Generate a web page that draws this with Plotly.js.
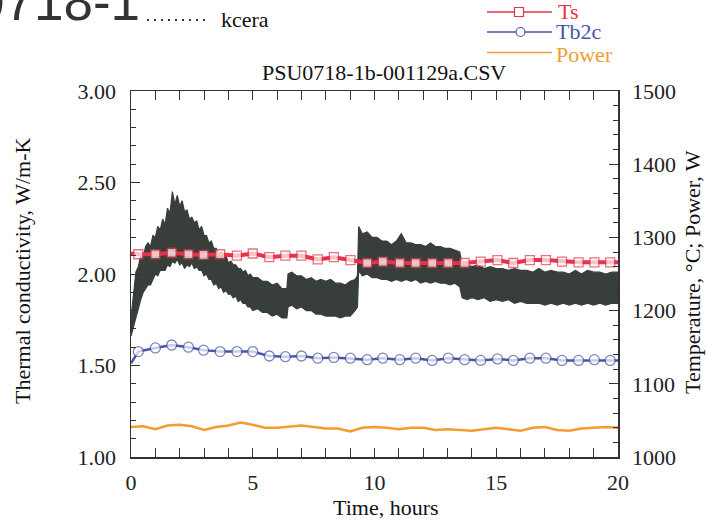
<!DOCTYPE html>
<html>
<head>
<meta charset="utf-8">
<script src="https://cdn.plot.ly/plotly-3.0.1.min.js"></script>
<style>html,body{margin:0;padding:0;background:#fff;}#chart{width:706px;height:520px;}</style>
</head>
<body>
<div id="chart"></div>
<script>
// ---- kcera (noisy band: upper / lower envelope) ----
const kTime  = [0.00,0.10,0.20,0.30,0.40,0.50,0.60,0.70,0.80,0.90,1.00,1.10,1.20,1.30,1.40,1.50,1.60,1.70,1.80,1.90,2.00,2.10,2.20,2.30,2.40,2.50,2.60,2.70,2.80,2.90,3.00,3.10,3.20,3.30,3.40,3.50,3.60,3.70,3.80,3.90,4.00,4.10,4.20,4.30,4.40,4.50,4.60,4.70,4.80,4.90,5.00,5.20,5.40,5.60,5.80,6.00,6.20,6.40,6.45,6.60,6.80,7.00,7.20,7.40,7.60,7.80,8.00,8.20,8.40,8.60,8.80,9.00,9.20,9.30,9.35,9.50,9.70,9.90,10.10,10.30,10.50,10.70,10.90,11.10,11.30,11.50,11.70,11.90,12.10,12.30,12.50,12.70,12.90,13.10,13.30,13.50,13.60,13.80,14.00,14.25,14.50,14.75,15.00,15.25,15.50,15.75,16.00,16.25,16.50,16.75,17.00,17.25,17.50,17.75,18.00,18.25,18.50,18.75,19.00,19.25,19.50,19.75,20.00];
const kUpper = [1.76,1.90,2.01,2.04,2.10,2.09,2.15,2.17,2.15,2.21,2.20,2.26,2.24,2.30,2.27,2.36,2.33,2.45,2.38,2.43,2.37,2.40,2.34,2.35,2.30,2.31,2.28,2.29,2.24,2.26,2.21,2.21,2.17,2.18,2.14,2.14,2.11,2.12,2.09,2.10,2.06,2.07,2.05,2.05,2.03,2.03,2.01,2.02,1.99,2.00,1.98,1.98,1.96,1.96,1.94,1.95,1.92,1.92,2.00,2.01,1.99,1.99,1.97,1.98,1.96,1.97,1.96,1.97,1.95,1.95,1.94,1.96,1.97,1.99,2.26,2.22,2.23,2.20,2.20,2.18,2.18,2.16,2.18,2.22,2.17,2.17,2.16,2.16,2.15,2.17,2.15,2.15,2.14,2.14,2.13,2.12,2.05,2.05,2.04,2.05,2.03,2.04,2.03,2.03,2.02,2.03,2.02,2.02,2.01,2.03,2.01,2.02,2.01,2.01,2.00,2.02,2.00,2.02,2.01,2.01,2.00,2.01,2.01];
const kLower = [1.66,1.70,1.75,1.81,1.86,1.90,1.92,1.94,1.94,1.97,2.00,1.99,2.02,2.02,2.02,2.05,2.04,2.07,2.06,2.08,2.05,2.06,2.03,2.05,2.04,2.06,2.03,2.04,2.02,2.02,1.99,2.00,1.97,1.97,1.94,1.95,1.92,1.93,1.90,1.91,1.89,1.89,1.87,1.88,1.85,1.86,1.84,1.84,1.82,1.82,1.80,1.81,1.79,1.79,1.77,1.78,1.76,1.76,1.82,1.83,1.81,1.82,1.80,1.80,1.78,1.78,1.77,1.77,1.77,1.76,1.77,1.77,1.80,1.82,2.02,1.99,2.00,1.98,1.98,1.97,1.97,1.96,1.97,1.96,1.97,1.96,1.97,1.95,1.96,1.95,1.96,1.95,1.95,1.94,1.95,1.93,1.87,1.86,1.87,1.86,1.87,1.85,1.86,1.85,1.86,1.84,1.85,1.84,1.84,1.84,1.83,1.84,1.83,1.84,1.83,1.84,1.83,1.84,1.83,1.84,1.83,1.84,1.84];

// ---- Ts and Tb2c (right axis, deg C) ----
const tTime   = [0,0.30,1.00,1.67,2.36,2.98,3.66,4.35,5.00,5.68,6.34,7.00,7.67,8.33,9.01,9.70,10.34,11.04,11.69,12.37,13.03,13.70,14.36,15.05,15.70,16.38,17.04,17.70,18.38,19.03,19.68,20];
const tsVal   = [1278,1277,1277,1279,1277,1276,1277,1275,1278,1273,1275,1275,1270,1273,1269,1265,1267,1265,1265,1265,1265,1265,1267,1269,1265,1269,1269,1267,1266,1266,1266,1266];
const tb2cVal = [1128,1144,1149,1153,1150,1146,1144,1144,1144,1138,1137,1138,1135,1136,1135,1133,1135,1133,1135,1132,1135,1133,1132,1134,1132,1135,1135,1132,1132,1133,1132,1132];

// ---- Power (right axis, W) ----
const pTime = [0,0.5,1,1.5,2,2.5,3,3.5,4,4.5,5,5.5,6,6.5,7,7.5,8,8.5,9,9.5,10,10.5,11,11.5,12,12.5,13,13.5,14,14.5,15,15.5,16,16.5,17,17.5,18,18.5,19,19.5,20];
const pVal  = [1041,1042,1038,1043,1044,1042,1037,1041,1043,1047,1044,1040,1040,1041,1043,1041,1039,1039,1035,1040,1041,1040,1038,1040,1040,1037,1038,1037,1036,1038,1040,1038,1036,1040,1041,1037,1036,1039,1040,1041,1040];

const SERIF = 'Liberation Serif, Times New Roman, serif';
const SANS = 'Liberation Sans, Arial, sans-serif';
const AX = '#333333';
const C_K = '#383e3a', C_TS = '#e6334b', C_TB = '#4a55a8', C_P = '#f39c32';

const endSizes = (n, s) => tTime.map((_, i) => (i === 0 || i === n - 1) ? 0 : s);

const traces = [
  { x: kTime.concat(kTime.slice().reverse()), y: kUpper.concat(kLower.slice().reverse()),
    type: 'scatter', mode: 'lines', fill: 'toself', fillcolor: C_K,
    line: { color: C_K, width: 1.2 }, yaxis: 'y', hoverinfo: 'skip', name: 'kcera' },
  { x: pTime, y: pVal, type: 'scatter', mode: 'lines', yaxis: 'y2',
    line: { color: C_P, width: 2.5 }, name: 'Power' },
  { x: tTime, y: tb2cVal, type: 'scatter', mode: 'lines+markers', yaxis: 'y2',
    line: { color: C_TB, width: 2.5 },
    marker: { symbol: 'circle', size: endSizes(tTime.length, 10), color: '#ffffff', line: { color: C_TB, width: 1.3 } },
    name: 'Tb2c' },
  { x: tTime, y: tsVal, type: 'scatter', mode: 'lines+markers', yaxis: 'y2',
    line: { color: C_TS, width: 4 },
    marker: { symbol: 'square', size: endSizes(tTime.length, 9), color: '#ffffff', line: { color: C_TS, width: 1.3 } },
    name: 'Ts' }
];

const L = 131, R = 618, T = 91, B = 457;
const px = X => (X - L) / (R - L);
const py = Y => (B - Y) / (B - T);

const tickFont = { family: SERIF, size: 22, color: '#222' };
const txtFont = { family: SERIF, size: 22, color: '#111' };

const layout = {
  width: 706, height: 520,
  margin: { l: L, r: 706 - R, t: T, b: 520 - B, pad: 0 },
  paper_bgcolor: '#ffffff', plot_bgcolor: '#ffffff',
  showlegend: false,
  font: { family: SERIF },
  xaxis: {
    range: [0, 20], dtick: 5, tick0: 0, ticks: 'inside', ticklen: 9, tickwidth: 1, tickcolor: AX,
    showline: true, linecolor: AX, linewidth: 1.5, mirror: 'allticks',
    showgrid: false, zeroline: false, tickfont: tickFont, ticklabelstandoff: 5,
    minor: { dtick: 1, ticks: 'inside', ticklen: 5, tickwidth: 1, tickcolor: AX, showgrid: false }
  },
  yaxis: {
    range: [1, 3], dtick: 0.5, tick0: 1, tickformat: '.2f', ticks: 'inside', ticklen: 9, tickwidth: 1, tickcolor: AX,
    showline: true, linecolor: AX, linewidth: 1.5, showgrid: false, zeroline: false,
    tickfont: tickFont, ticklabelstandoff: 9,
    minor: { dtick: 0.1, ticks: 'inside', ticklen: 5, tickwidth: 1, tickcolor: AX, showgrid: false }
  },
  yaxis2: {
    range: [1000, 1500], dtick: 100, tick0: 1000, overlaying: 'y', side: 'right',
    ticks: 'inside', ticklen: 9, tickwidth: 1, tickcolor: AX,
    showline: true, linecolor: AX, linewidth: 1.5, showgrid: false, zeroline: false,
    tickfont: tickFont, ticklabelstandoff: 8,
    minor: { dtick: 20, ticks: 'inside', ticklen: 5, tickwidth: 1, tickcolor: AX, showgrid: false }
  },
  shapes: [
    { type: 'line', xref: 'paper', yref: 'paper', x0: px(147), x1: px(209), y0: py(20), y1: py(20),
      line: { color: '#333', width: 2, dash: '2px,5px' } },
    { type: 'line', xref: 'paper', yref: 'paper', x0: px(487), x1: px(552), y0: py(12), y1: py(12),
      line: { color: C_TS, width: 1.5 } },
    { type: 'rect', xref: 'paper', yref: 'paper', xsizemode: 'pixel', ysizemode: 'pixel',
      xanchor: px(519), yanchor: py(12), x0: -4.5, x1: 4.5, y0: -4.5, y1: 4.5,
      fillcolor: '#ffffff', line: { color: C_TS, width: 1.2 } },
    { type: 'line', xref: 'paper', yref: 'paper', x0: px(487), x1: px(552), y0: py(32), y1: py(32),
      line: { color: C_TB, width: 1.5 } },
    { type: 'circle', xref: 'paper', yref: 'paper', xsizemode: 'pixel', ysizemode: 'pixel',
      xanchor: px(520.5), yanchor: py(32), x0: -4.5, x1: 4.5, y0: -4.5, y1: 4.5,
      fillcolor: '#ffffff', line: { color: C_TB, width: 1.2 } },
    { type: 'line', xref: 'paper', yref: 'paper', x0: px(487), x1: px(552), y0: py(52.5), y1: py(52.5),
      line: { color: C_P, width: 1.5 } }
  ],
  annotations: [
    { text: '0718-1', xref: 'paper', yref: 'paper', x: px(-27), y: py(33), xanchor: 'left', yanchor: 'bottom',
      showarrow: false, font: { family: SANS, size: 53, color: '#333' } },
    { text: 'kcera', xref: 'paper', yref: 'paper', x: px(219), y: py(19.5), xanchor: 'left', yanchor: 'middle',
      showarrow: false, font: txtFont },
    { text: 'Ts', xref: 'paper', yref: 'paper', x: px(555.5), y: py(11.5), xanchor: 'left', yanchor: 'middle',
      showarrow: false, font: { family: SERIF, size: 22, color: C_TS } },
    { text: 'Tb2c', xref: 'paper', yref: 'paper', x: px(553.5), y: py(31), xanchor: 'left', yanchor: 'middle',
      showarrow: false, font: { family: SERIF, size: 22, color: C_TB } },
    { text: 'Power', xref: 'paper', yref: 'paper', x: px(553.5), y: py(54.2), xanchor: 'left', yanchor: 'middle',
      showarrow: false, font: { family: SERIF, size: 22, color: C_P } },
    { text: 'PSU0718-1b-001129a.CSV', xref: 'paper', yref: 'paper', x: px(384), y: py(72.5), xanchor: 'center', yanchor: 'middle',
      showarrow: false, font: txtFont },
    { text: 'Time, hours', xref: 'paper', yref: 'paper', x: px(386), y: py(507.5), xanchor: 'center', yanchor: 'middle',
      showarrow: false, font: txtFont },
    { text: 'Thermal conductivity, W/m-K', xref: 'paper', yref: 'paper', x: px(22.5), y: py(271.5), xanchor: 'center', yanchor: 'middle',
      textangle: -90, showarrow: false, font: txtFont },
    { text: 'Temperature, °C; Power, W', xref: 'paper', yref: 'paper', x: px(692), y: py(272), xanchor: 'center', yanchor: 'middle',
      textangle: -90, showarrow: false, font: txtFont }
  ]
};

Plotly.newPlot('chart', traces, layout, { displayModeBar: false, staticPlot: true });
</script>
</body>
</html>
